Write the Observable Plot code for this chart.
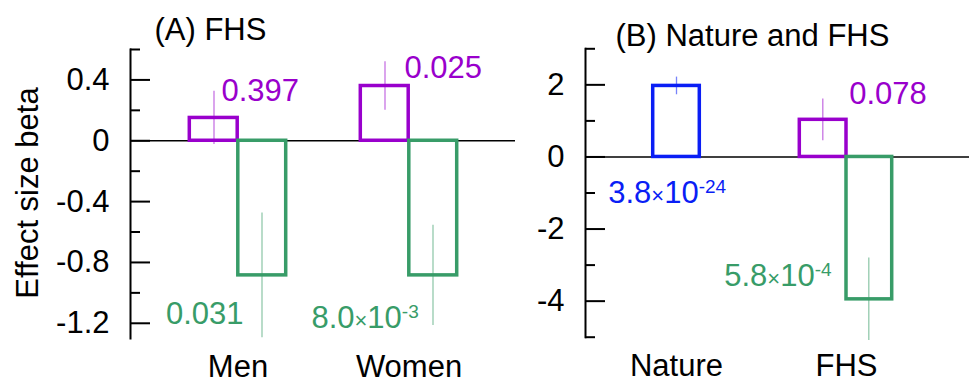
<!DOCTYPE html>
<html>
<head>
<meta charset="utf-8">
<script src="https://cdn.jsdelivr.net/npm/d3@7"></script>
<script src="https://cdn.jsdelivr.net/npm/@observablehq/plot@0.6"></script>
<style>
  body { margin: 0; background: #fff; }
  #wrap { position: relative; width: 969px; height: 383px; overflow: hidden; background: #fff; }
  #a, #b { position: absolute; top: 0; }
  #a { left: 0; }
  #b { left: 515px; }
</style>
</head>
<body>
<div id="wrap"><div id="a"></div><div id="b"></div></div>
<script>
// ---------- Data ----------
// Panel A: FHS, by sex
const groupsA = ["Men", "Women"];
const purpleBetaA = [0.15, 0.36];
const purpleErrA = [0.175, 0.16];
const purplePA = ["0.397", "0.025"];
const greenBetaA = [-0.885, -0.885];
const greenErrA = [0.41, 0.33];
const greenPA = ["0.031", "8.0×10^-3"];
const yDomainA = [-1.3, 0.6];
const majorTicksA = [0.4, 0, -0.4, -0.8, -1.2];
const minorTicksA = [0.6, 0.2, -0.2, -0.6, -1.0];

// Panel B: Nature and FHS
const groupsB = ["Nature", "FHS"];
const blueGroupB = ["Nature"];
const blueBetaB = [1.97];
const blueErrB = [0.245];
const bluePB = ["3.8×10^-24"];
const purpleGroupB = ["FHS"];
const purpleBetaB = [1.03];
const purpleErrB = [0.58];
const purplePB = ["0.078"];
const greenGroupB = ["FHS"];
const greenBetaB = [-3.95];
const greenErrB = [1.145];
const greenPB = ["5.8×10^-4"];
const yDomainB = [-5, 3];
const majorTicksB = [2, 0, -2, -4];
const minorTicksB = [3, 1, -1, -3, -5];

const titleA = "(A) FHS";
const titleB = "(B) Nature and FHS";
const yLabel = "Effect size beta";

// ---------- Styles ----------
const PURPLE = "#9900cc";
const GREEN = "#389c68";
const BLUE = "#0a1ef5";
const FONT = "'Liberation Sans', Arial, Helvetica, sans-serif";
const FS = 31;

const rows = (groups, beta, err, p) => groups.map((g, i) => ({group: g, beta: beta[i], err: err[i], p: p[i]}));
const rowsA1 = rows(groupsA, purpleBetaA, purpleErrA, purplePA);
const rowsA2 = rows(groupsA, greenBetaA, greenErrA, greenPA);
const rowsB0 = rows(blueGroupB, blueBetaB, blueErrB, bluePB);
const rowsB1 = rows(purpleGroupB, purpleBetaB, purpleErrB, purplePB);
const rowsB2 = rows(greenGroupB, greenBetaB, greenErrB, greenPB);

function bar(data, color, insetLeft, insetRight) {
  return Plot.barY(data, {x: "group", y1: 0, y2: "beta", fill: "none", stroke: color, strokeWidth: 3.5, insetLeft, insetRight});
}
function err(data, color, dx) {
  return Plot.ruleX(data, {x: "group", y1: d => d.beta - d.err, y2: d => d.beta + d.err, dx, stroke: color, strokeOpacity: 0.55, strokeWidth: 1.3});
}
function label(datum, color, y, dx, dy) {
  return Plot.text([datum], {x: "group", y, text: "p", fill: color, textAnchor: "start", lineAnchor: "middle", fontSize: FS, dx, dy});
}
function axisMarks(major, minor, plotW) {
  return [
    Plot.ruleY([0], {stroke: "black", strokeWidth: 1.5}),
    Plot.frame({anchor: "left", stroke: "black", strokeWidth: 2}),
    Plot.ruleY(major, {stroke: "black", strokeWidth: 2, insetRight: plotW - 20}),
    Plot.ruleY(minor, {stroke: "black", strokeWidth: 2, insetRight: plotW - 10}),
    Plot.axisY(major, {tickSize: 0, tickPadding: 21, fontSize: FS, label: null, tickFormat: d => String(d)})
  ];
}
function superscripts(svg) {
  d3.select(svg).selectAll("text").each(function () {
    const s = this.textContent;
    const m = /^(.*)×10\^(.+)$/.exec(s);
    if (!m) return;
    const t = d3.select(this);
    t.text(null);
    t.append("tspan").text(m[1]);
    t.append("tspan").attr("font-size", 22).text("×");
    t.append("tspan").text("10");
    t.append("tspan").attr("font-size", 19).attr("dy", -10).text(m[2]);
  });
  return svg;
}

const style = {fontFamily: FONT, fontSize: FS + "px", color: "black", background: "white", overflow: "visible"};

// ---------- Panel A ----------
const WA = 515, MLA = 130, PWA = WA - MLA;
const plotA = Plot.plot({
  width: WA, height: 383,
  marginLeft: MLA, marginRight: 0, marginTop: 49, marginBottom: 45,
  x: {type: "band", domain: groupsA, range: [150.9, 494.1], padding: 0, label: null},
  y: {domain: yDomainA, label: null},
  style,
  marks: [
    ...axisMarks(majorTicksA, minorTicksA, PWA),
    Plot.axisX({tickSize: 0, tickPadding: 16, fontSize: FS, label: null}),
    bar(rowsA1, PURPLE, 37.3, 85.8),
    bar(rowsA2, GREEN, 85.8, 37.3),
    err(rowsA1, PURPLE, -24),
    err(rowsA2, GREEN, 24),
    label(rowsA1[0], PURPLE, d => d.beta + d.err, -16.5, 0),
    label(rowsA1[1], PURPLE, d => d.beta + d.err, -4.6, 6),
    label(rowsA2[0], GREEN, "beta", -72, 38.5),
    label(rowsA2[1], GREEN, "beta", -97.6, 42.5),
    Plot.text([titleA], {frameAnchor: "top-left", text: d => d, textAnchor: "start", lineAnchor: "middle", fontSize: FS, dx: 24, dy: -19}),
    Plot.text([yLabel], {frameAnchor: "left", text: d => d, rotate: -90, textAnchor: "middle", lineAnchor: "middle", fontSize: FS, dx: -102, dy: -1})
  ]
});
document.getElementById("a").appendChild(superscripts(plotA));

// ---------- Panel B ----------
const WB = 454, MLB = 70, PWB = WB - MLB;
const plotB = Plot.plot({
  width: WB, height: 383,
  marginLeft: MLB, marginRight: 0, marginTop: 48.3, marginBottom: 46.3,
  x: {type: "band", domain: groupsB, range: [76, 416], padding: 0, label: null},
  y: {domain: yDomainB, label: null},
  style,
  marks: [
    ...axisMarks(majorTicksB, minorTicksB, PWB),
    Plot.axisX({tickSize: 0, tickPadding: 17, fontSize: FS, label: null}),
    bar(rowsB0, BLUE, 61.7, 61.7),
    bar(rowsB1, PURPLE, 38.3, 85),
    bar(rowsB2, GREEN, 85, 39.3),
    err(rowsB0, BLUE, 0),
    err(rowsB1, PURPLE, -23.7),
    err(rowsB2, GREEN, 22.3),
    label(rowsB0[0], BLUE, "beta", -68.3, 106.7),
    label(rowsB1[0], PURPLE, d => d.beta + d.err, 2.7, -5),
    label(rowsB2[0], GREEN, "beta", -122.3, -23.1),
    Plot.text([titleB], {frameAnchor: "top-left", text: d => d, textAnchor: "start", lineAnchor: "middle", fontSize: FS, dx: 30, dy: -12.5})
  ]
});
document.getElementById("b").appendChild(superscripts(plotB));
</script>
</body>
</html>
